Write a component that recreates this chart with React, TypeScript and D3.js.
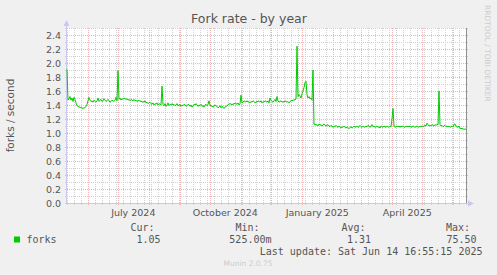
import React from "react";
import * as d3 from "d3";

const W = 497;
const H = 275;

const endTime = new Date(2025, 5, 14, 16, 55, 15);
const DAY = 86400000;
const startTime = new Date(endTime.getTime() - 400 * DAY);

const forks: number[] = [
  1.91, 1.47, 1.49, 1.52, 1.47, 1.5, 1.45, 1.51, 1.48, 1.43,
  1.39, 1.38, 1.37, 1.37, 1.36, 1.36, 1.35, 1.36, 1.36, 1.38,
  1.41, 1.46, 1.51, 1.47, 1.45, 1.46, 1.44, 1.47, 1.45, 1.44,
  1.46, 1.5, 1.45, 1.47, 1.48, 1.45, 1.46, 1.49, 1.47, 1.45,
  1.46, 1.48, 1.46, 1.44, 1.45, 1.47, 1.46, 1.45, 1.47, 1.51,
  1.46, 1.89, 1.48, 1.5, 1.47, 1.49, 1.48, 1.5, 1.49, 1.48,
  1.49, 1.47, 1.48, 1.46, 1.48, 1.47, 1.46, 1.48, 1.46, 1.47,
  1.45, 1.46, 1.47, 1.45, 1.46, 1.44, 1.45, 1.44, 1.46, 1.43,
  1.44, 1.42, 1.43, 1.44, 1.42, 1.41, 1.43, 1.4, 1.42, 1.41,
  1.43, 1.4, 1.42, 1.41, 1.4, 1.67, 1.41, 1.39, 1.42, 1.38,
  1.4, 1.43, 1.39, 1.41, 1.4, 1.42, 1.4, 1.41, 1.39, 1.4,
  1.42, 1.39, 1.4, 1.41, 1.38, 1.4, 1.39, 1.41, 1.4, 1.38,
  1.39, 1.41, 1.4, 1.38, 1.4, 1.37, 1.39, 1.41, 1.4, 1.42,
  1.4, 1.38, 1.4, 1.39, 1.41, 1.38, 1.39, 1.37, 1.4, 1.41,
  1.39, 1.41, 1.46, 1.4, 1.38, 1.39, 1.37, 1.38, 1.4, 1.39,
  1.38, 1.36, 1.37, 1.39, 1.36, 1.38, 1.37, 1.35, 1.37, 1.38,
  1.39, 1.4, 1.42, 1.41, 1.42, 1.4, 1.42, 1.41, 1.43, 1.42,
  1.41, 1.43, 1.4, 1.42, 1.54, 1.43, 1.44, 1.46, 1.45, 1.44,
  1.46, 1.44, 1.45, 1.43, 1.45, 1.44, 1.46, 1.45, 1.43, 1.45,
  1.44, 1.46, 1.45, 1.44, 1.46, 1.43, 1.45, 1.44, 1.46, 1.45,
  1.44, 1.46, 1.43, 1.5, 1.47, 1.45, 1.44, 1.46, 1.48, 1.45,
  1.52, 1.46, 1.44, 1.45, 1.46, 1.44, 1.45, 1.44, 1.46, 1.45,
  1.44, 1.45, 1.43, 1.45, 1.46, 1.47, 1.46, 1.48, 1.47, 1.49,
  2.24, 1.52, 1.55, 1.53, 1.5, 1.56, 1.6, 1.65, 1.72, 1.74,
  1.55, 1.5, 1.52, 1.49, 1.5, 1.47, 1.9, 1.12, 1.13, 1.11,
  1.12, 1.1, 1.13, 1.11, 1.12, 1.1, 1.11, 1.13, 1.11, 1.1,
  1.11, 1.12, 1.1, 1.09, 1.11, 1.1, 1.08, 1.1, 1.09, 1.11,
  1.09, 1.08, 1.1, 1.09, 1.07, 1.09, 1.08, 1.1, 1.08, 1.07,
  1.09, 1.08, 1.06, 1.08, 1.09, 1.07, 1.08, 1.1, 1.08, 1.09,
  1.1, 1.08, 1.09, 1.11, 1.09, 1.08, 1.1, 1.09, 1.08, 1.1,
  1.09, 1.11, 1.1, 1.08, 1.1, 1.12, 1.09, 1.1, 1.08, 1.09,
  1.1, 1.08, 1.09, 1.07, 1.1, 1.09, 1.08, 1.1, 1.09, 1.08,
  1.1, 1.09, 1.08, 1.1, 1.09, 1.2, 1.35, 1.1, 1.08, 1.09,
  1.1, 1.09, 1.1, 1.08, 1.1, 1.09, 1.1, 1.09, 1.08, 1.1,
  1.09, 1.1, 1.09, 1.1, 1.08, 1.09, 1.1, 1.09, 1.08, 1.09,
  1.1, 1.09, 1.08, 1.1, 1.09, 1.1, 1.09, 1.1, 1.11, 1.1,
  1.14, 1.12, 1.1, 1.11, 1.1, 1.12, 1.11, 1.1, 1.12, 1.11,
  1.12, 1.12, 1.6, 1.12, 1.1, 1.11, 1.09, 1.1, 1.11, 1.09,
  1.1, 1.09, 1.1, 1.08, 1.09, 1.1, 1.09, 1.12, 1.13, 1.1,
  1.09, 1.08, 1.1, 1.07, 1.06, 1.07, 1.06, 1.05, 1.06, 1.05,
];

const yTicks = [0, 0.2, 0.4, 0.6, 0.8, 1.0, 1.2, 1.4, 1.6, 1.8, 2.0, 2.2, 2.4];
const yMinor = [0.1, 0.3, 0.5, 0.7, 0.9, 1.1, 1.3, 1.5, 1.7, 1.9, 2.1, 2.3, 2.5];
const xLabels = ["July 2024", "October 2024", "January 2025", "April 2025"];
const xLabelMonths = [new Date(2024, 6, 1), new Date(2024, 9, 1), new Date(2025, 0, 1), new Date(2025, 3, 1)];

const legendHeads = ["Cur:", "Min:", "Avg:", "Max:"];
const legendValues = ["1.05", "525.00m", "1.31", "75.50"];

const TEXT = "#555555";
const MINOR = "#d0d0d0";
const MAJOR = "#f0b4b4";
const AXIS = "#c8c8f0";

export default function App() {
  const left = 67, right = 467, top = 28, bottom = 203;
  const x = d3.scaleTime().domain([startTime, endTime]).range([left, right]);
  const y = d3.scaleLinear().domain([0, 2.5]).range([bottom, top]);
  const px = (v: number) => Math.round(v) + 0.5;

  const months = d3.timeMonth.range(d3.timeMonth.ceil(startTime), endTime);
  const firstDay = d3.timeDay.ceil(startTime);
  const weeks: Date[] = [];
  for (let t = firstDay.getTime(); t < endTime.getTime(); t += 7 * DAY) weeks.push(new Date(t));

  const line = d3
    .line<number>()
    .x((_, i) => x(new Date(startTime.getTime() + i * DAY)))
    .y((d) => y(d));

  const mono = "'DejaVu Sans Mono', monospace";
  const sans = "'DejaVu Sans', sans-serif";
  const legendHeadX = [154.5, 259.5, 365.5, 470];
  const legendValX = [160.5, 271.5, 371, 476.5];

  return (
    <svg width={W} height={H} style={{ position: "absolute", left: 0, top: 0, display: "block" }}>
      <rect x={0} y={0} width={W} height={H} fill="#f0f0f0" />
      <rect x={left} y={top} width={right - left} height={bottom - top} fill="#ffffff" />
      {weeks.map((d, i) => (
        <line key={"wv" + i} x1={px(x(d))} x2={px(x(d))} y1={top} y2={bottom + 2} stroke={MINOR} strokeDasharray="1,1" />
      ))}
      {yMinor.map((v, i) => (
        <line key={"mh" + i} x1={left - 2} x2={right + 2} y1={px(y(v))} y2={px(y(v))} stroke={MINOR} strokeDasharray="1,1" />
      ))}
      {months.map((d, i) => (
        <line key={"mv" + i} x1={px(x(d))} x2={px(x(d))} y1={top} y2={bottom + 2} stroke={MAJOR} strokeDasharray="1,1" />
      ))}
      {yTicks.map((v, i) => (
        <line key={"Mh" + i} x1={left - 2} x2={right + 2} y1={px(y(v))} y2={px(y(v))} stroke={MAJOR} strokeDasharray="1,1" />
      ))}
      {yTicks.map((v, i) => (
        <text key={"yl" + i} x={61} y={y(v) + 3.5} textAnchor="end" fontFamily={sans} fontSize={9.5} fill={TEXT}>
          {v.toFixed(1)}
        </text>
      ))}
      {xLabelMonths.map((d, i) => (
        <text key={"xl" + i} x={x(new Date(d.getTime() + 15 * DAY))} y={215.5} textAnchor="middle" fontFamily={sans} fontSize={9.5} fill={TEXT}>
          {xLabels[i]}
        </text>
      ))}
      <line x1={right - 0.5} x2={right - 0.5} y1={top} y2={bottom} stroke="#909090" />
      <line x1={left - 0.5} x2={left - 0.5} y1={bottom} y2={top - 4} stroke={AXIS} />
      <path d={`M${left - 3.5},${top - 2} L${left - 0.5},${top - 8} L${left + 2.5},${top - 2} Z`} fill={AXIS} />
      <line x1={left - 2} x2={right + 2} y1={bottom + 0.5} y2={bottom + 0.5} stroke={AXIS} />
      <path d={`M${right + 1},${bottom - 2.5} L${right + 7},${bottom + 0.5} L${right + 1},${bottom + 3.5} Z`} fill={AXIS} />
      <path d={line(forks) || ""} fill="none" stroke="#00cc00" strokeWidth={1} />
      <text x={249} y={23} textAnchor="middle" fontFamily={sans} fontSize={12.5} fill={TEXT}>
        Fork rate - by year
      </text>
      <text transform={`translate(14,${(top + bottom) / 2}) rotate(-90)`} textAnchor="middle" fontFamily={sans} fontSize={10.5} fill={TEXT}>
        forks / second
      </text>
      <text transform="translate(485,5) rotate(90)" fontFamily={sans} fontSize={7.5} fill="#cccccc">
        RRDTOOL / TOBI OETIKER
      </text>
      <rect x={14} y={236.5} width={6} height={6} fill="#00cc00" />
      <text x={26.5} y={242.5} fontFamily={mono} fontSize={10} fill={TEXT}>
        forks
      </text>
      {legendHeads.map((h, i) => (
        <text key={"lh" + i} x={legendHeadX[i]} y={230.5} textAnchor="end" fontFamily={mono} fontSize={10} fill={TEXT}>
          {h}
        </text>
      ))}
      {legendValues.map((v, i) => (
        <text key={"lv" + i} x={legendValX[i]} y={242.5} textAnchor="end" fontFamily={mono} fontSize={10} fill={TEXT}>
          {v}
        </text>
      ))}
      <text x={482.5} y={255} textAnchor="end" fontFamily={mono} fontSize={10} fill={TEXT}>
        Last update: Sat Jun 14 16:55:15 2025
      </text>
      <text x={248} y={266} textAnchor="middle" fontFamily={sans} fontSize={7.5} fill="#cccccc">
        Munin 2.0.75
      </text>
    </svg>
  );
}
